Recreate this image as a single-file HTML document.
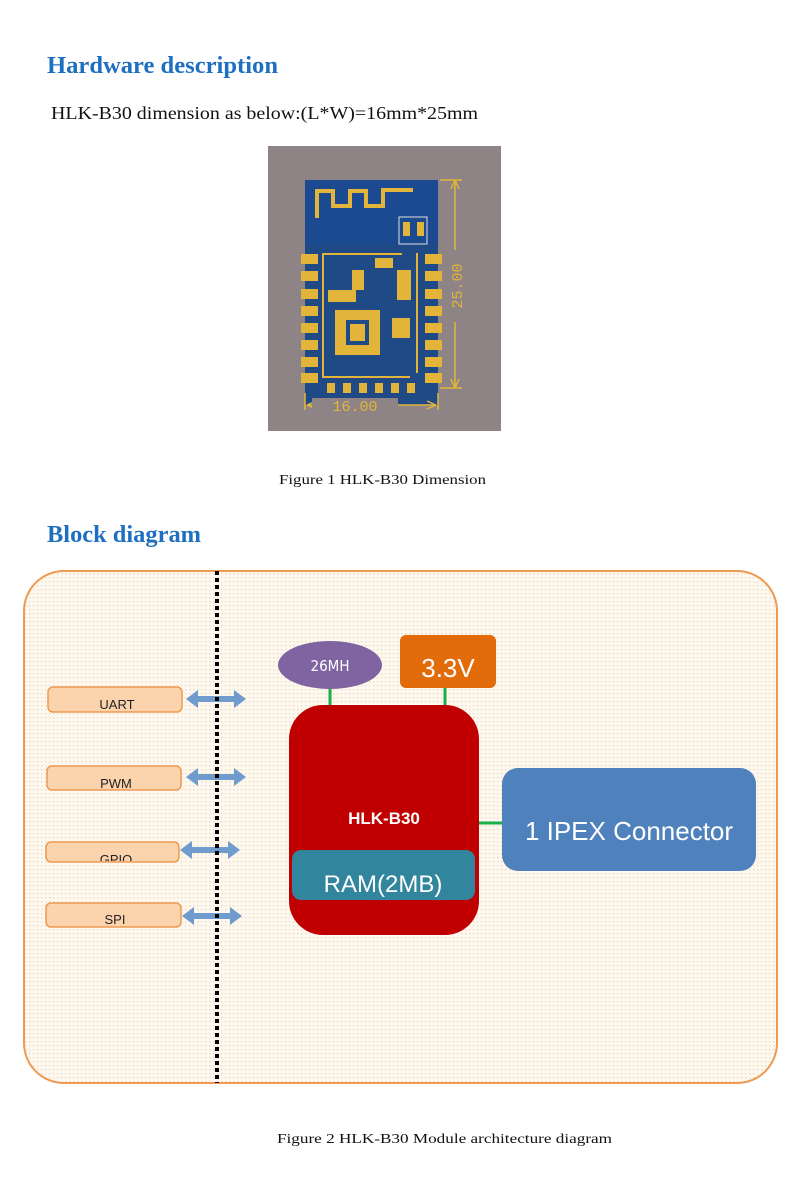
<!DOCTYPE html>
<html><head><meta charset="utf-8"><style>
html,body{margin:0;padding:0;background:#fff;width:800px;height:1200px;overflow:hidden}
svg{display:block}
</style></head><body>
<svg width="800" height="1200" viewBox="0 0 800 1200" xmlns="http://www.w3.org/2000/svg">
<defs>
<pattern id="dots" width="4" height="4" patternUnits="userSpaceOnUse">
<rect width="4" height="4" fill="#fdf8f0"/><rect x="1" y="1" width="1.4" height="1.4" fill="#f0d9b8"/>
</pattern>
</defs>
<text x="47" y="73" font-family="Liberation Serif, serif" font-weight="bold" font-size="24" fill="#1f6fc0" textLength="231" lengthAdjust="spacingAndGlyphs">Hardware description</text>
<text x="51" y="119" font-family="Liberation Serif, serif" font-size="18" fill="#111" textLength="427" lengthAdjust="spacingAndGlyphs">HLK-B30 dimension as below:(L*W)=16mm*25mm</text>

<!-- module image -->
<rect x="268" y="146" width="233" height="285" fill="#8e8486"/>
<rect x="305" y="180" width="133" height="225" fill="#1f4a86"/>
<rect x="305" y="180" width="133" height="65" fill="#1c4a90"/>
<path d="M317 218 V191 H333 V206 H350 V191 H366 V206 H383 V190 H413" stroke="#e2b43a" stroke-width="4" fill="none"/>
<rect x="399" y="217" width="28" height="27" fill="none" stroke="#ddd" stroke-width="1"/>
<rect x="403" y="222" width="7" height="14" fill="#e2b43a"/><rect x="417" y="222" width="7" height="14" fill="#e2b43a"/>
<g fill="#e2b43a">
<rect x="301" y="254" width="17" height="10"/><rect x="301" y="271" width="17" height="10"/><rect x="301" y="289" width="17" height="10"/><rect x="301" y="306" width="17" height="10"/><rect x="301" y="323" width="17" height="10"/><rect x="301" y="340" width="17" height="10"/><rect x="301" y="357" width="17" height="10"/><rect x="301" y="373" width="17" height="10"/>
<rect x="425" y="254" width="17" height="10"/><rect x="425" y="271" width="17" height="10"/><rect x="425" y="289" width="17" height="10"/><rect x="425" y="306" width="17" height="10"/><rect x="425" y="323" width="17" height="10"/><rect x="425" y="340" width="17" height="10"/><rect x="425" y="357" width="17" height="10"/><rect x="425" y="373" width="17" height="10"/>
<rect x="327" y="383" width="8" height="10"/><rect x="343" y="383" width="8" height="10"/><rect x="359" y="383" width="8" height="10"/><rect x="375" y="383" width="8" height="10"/><rect x="391" y="383" width="8" height="10"/><rect x="407" y="383" width="8" height="10"/>
<rect x="335" y="310" width="45" height="45"/>
<rect x="392" y="318" width="18" height="20"/>
<rect x="328" y="290" width="28" height="12"/><rect x="352" y="270" width="12" height="20"/><rect x="375" y="258" width="18" height="10"/>
<rect x="397" y="270" width="14" height="30"/>
<rect x="322" y="253" width="2" height="125"/><rect x="322" y="376" width="88" height="2"/><rect x="322" y="253" width="80" height="2"/><rect x="416" y="253" width="2" height="120"/>
</g>
<rect x="346" y="320" width="23" height="25" fill="#1f4a86"/><rect x="350" y="324" width="15" height="17" fill="#e2b43a"/>
<g stroke="#e2b43a" stroke-width="1.5" fill="none">
<path d="M440 180 H462 M440 388 H462 M455 182 V386"/>
<path d="M305 393 V410 M438 393 V410 M307 405 H436"/>
</g>
<path d="M455 180 l-4 9 M455 180 l4 9 M455 388 l-4 -9 M455 388 l4 -9 M307 405 l9 -4 M307 405 l9 4 M436 405 l-9 -4 M436 405 l-9 4" stroke="#e2b43a" stroke-width="1.5"/>
<rect x="312" y="398" width="86" height="14" fill="#8e8486"/>
<text x="355" y="411" text-anchor="middle" font-family="Liberation Mono, monospace" font-size="15" fill="#e2b43a">16.00</text>
<rect x="450" y="250" width="12" height="72" fill="#8e8486"/>
<text transform="translate(462,286) rotate(-90)" text-anchor="middle" font-family="Liberation Mono, monospace" font-size="15" fill="#e2b43a">25.00</text>

<text x="279" y="484" font-family="Liberation Serif, serif" font-size="14" fill="#111" textLength="207" lengthAdjust="spacingAndGlyphs">Figure 1  HLK-B30 Dimension</text>
<text x="47" y="542" font-family="Liberation Serif, serif" font-weight="bold" font-size="24" fill="#1f6fc0" textLength="154" lengthAdjust="spacingAndGlyphs">Block diagram</text>

<!-- block diagram -->
<rect x="24" y="571" width="753" height="512" rx="40" fill="url(#dots)" stroke="#ee9a52" stroke-width="2"/>

<g font-family="Liberation Sans, sans-serif" font-size="13" fill="#222" text-anchor="middle">
<rect x="48" y="687" width="134" height="25" rx="5" fill="#fbd3ac" stroke="#ee9a52" stroke-width="1.5"/><text x="117" y="709">UART</text>
<rect x="47" y="766" width="134" height="24" rx="5" fill="#fbd3ac" stroke="#ee9a52" stroke-width="1.5"/><text x="116" y="788">PWM</text>
<rect x="46" y="842" width="133" height="20" rx="5" fill="#fbd3ac" stroke="#ee9a52" stroke-width="1.5"/>
<svg x="46" y="842" width="133" height="19" overflow="hidden"><text x="70" y="22">GPIO</text></svg>
<rect x="46" y="903" width="135" height="24" rx="5" fill="#fbd3ac" stroke="#ee9a52" stroke-width="1.5"/><text x="115" y="924">SPI</text>
</g>
<g fill="#6f9ccc">
<path d="M186 699 l12 -9 v6 h36 v-6 l12 9 l-12 9 v-6 h-36 v6z"/>
<path d="M186 777 l12 -9 v6 h36 v-6 l12 9 l-12 9 v-6 h-36 v6z"/>
<path d="M180 850 l12 -9 v6 h36 v-6 l12 9 l-12 9 v-6 h-36 v6z"/>
<path d="M182 916 l12 -9 v6 h36 v-6 l12 9 l-12 9 v-6 h-36 v6z"/>
</g>
<line x1="217" y1="571" x2="217" y2="1083" stroke="#000" stroke-width="4" stroke-dasharray="4,3"/>

<line x1="330" y1="688" x2="330" y2="708" stroke="#19b04a" stroke-width="3"/>
<line x1="445" y1="686" x2="445" y2="708" stroke="#19b04a" stroke-width="3"/>
<line x1="478" y1="823" x2="504" y2="823" stroke="#19b04a" stroke-width="3"/>
<ellipse cx="330" cy="665" rx="52" ry="24" fill="#8064a2"/>
<text x="330" y="671" text-anchor="middle" font-family="DejaVu Sans Condensed, Liberation Sans, sans-serif" font-size="15" fill="#fff">26MH</text>
<rect x="400" y="635" width="96" height="53" rx="6" fill="#e36c0a"/>
<text x="448" y="677" text-anchor="middle" font-family="Liberation Sans, sans-serif" font-size="26" fill="#fff">3.3V</text>
<rect x="289" y="705" width="190" height="230" rx="34" fill="#c00000"/>
<text x="384" y="824" text-anchor="middle" font-family="Liberation Sans, sans-serif" font-weight="bold" font-size="17" fill="#fff">HLK-B30</text>
<rect x="292" y="850" width="183" height="50" rx="9" fill="#31859c"/>
<text x="383" y="892" text-anchor="middle" font-family="Liberation Sans, sans-serif" font-size="24" fill="#fff">RAM(2MB)</text>
<rect x="502" y="768" width="254" height="103" rx="16" fill="#4f81bd"/>
<text x="629" y="840" text-anchor="middle" font-family="Liberation Sans, sans-serif" font-size="26" fill="#fff">1 IPEX Connector</text>

<text x="277" y="1143" font-family="Liberation Serif, serif" font-size="14" fill="#111" textLength="335" lengthAdjust="spacingAndGlyphs">Figure 2 HLK-B30 Module architecture diagram</text>
</svg>
</body></html>
